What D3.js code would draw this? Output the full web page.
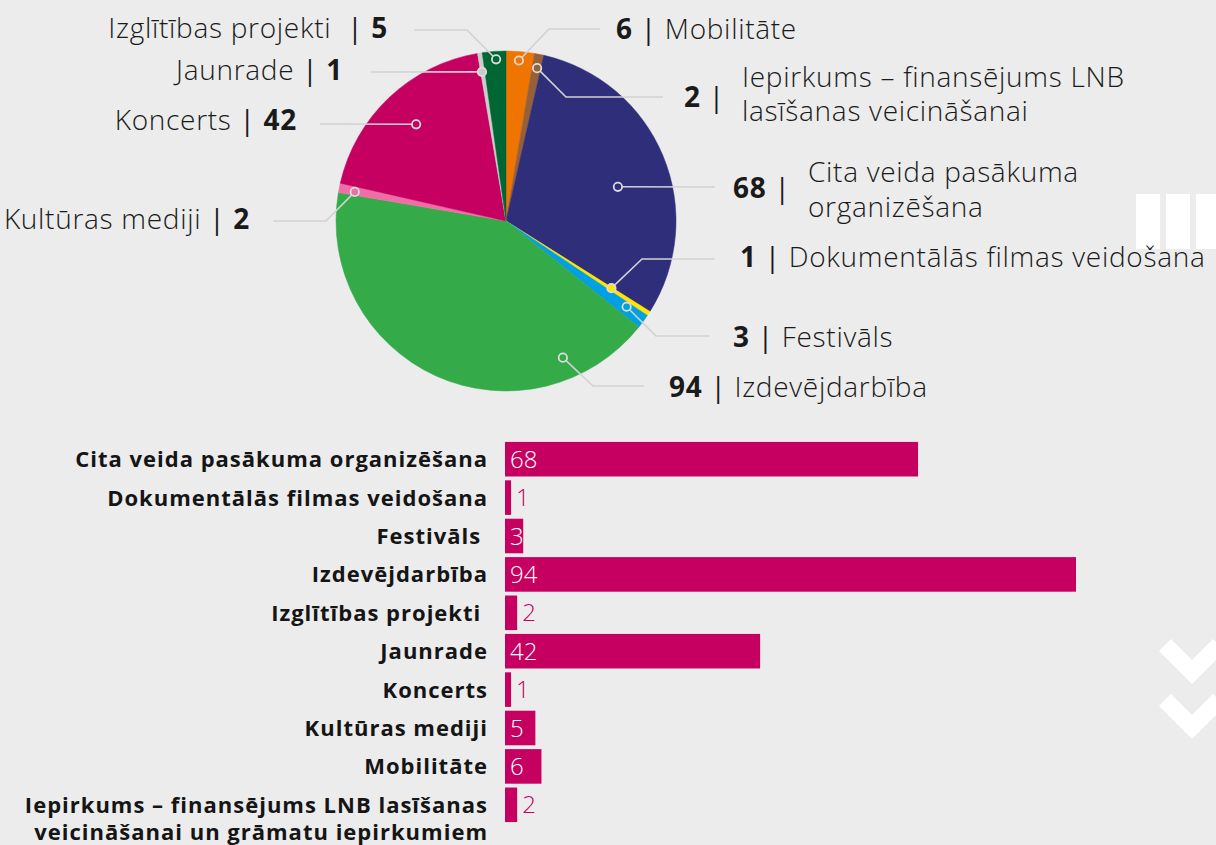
<!DOCTYPE html>
<meta charset="utf-8">
<style>
body { margin: 0; background: #ececec; }
svg { display: block; font-family: "Open Sans", Lato, sans-serif; }
.lead { fill: none; stroke: #d2d2d2; stroke-width: 1.6px; }
.marker { stroke: #dcdcdc; stroke-width: 1.8px; }
.plabel { font-size: 28px; font-weight: 300; fill: #1a1a1a; letter-spacing: 0.7px; }
.plabel .num { font-weight: 700; }
.plabel .sep { font-weight: 400; }
.cat { font-size: 22px; font-weight: 700; fill: #151515; letter-spacing: 1px; }
.val { font-size: 24px; font-weight: 300; }
</style>
<svg width="1216" height="845"></svg>
<script src="https://d3js.org/d3.v7.min.js"></script>
<script>

// pie: clockwise from 12 o'clock
var pieNames = ["Mobilitāte", "Iepirkums – finansējums LNB lasīšanas veicināšanai",
    "Cita veida pasākuma organizēšana", "Dokumentālās filmas veidošana", "Festivāls",
    "Izdevējdarbība", "Kultūras mediji", "Koncerts", "Jaunrade", "Izglītības projekti "];
var pieValues = [6, 2, 68, 1, 3, 94, 2, 42, 1, 5];
var pieColors = ["#ef7400", "#96603a", "#2e2e7a", "#ffe500", "#00a0e3",
    "#34aa48", "#ef6ea6", "#c50060", "#cccccc", "#006633"];

// bar chart (as published)
var barCategories = ["Cita veida pasākuma organizēšana", "Dokumentālās filmas veidošana",
    "Festivāls ", "Izdevējdarbība", "Izglītības projekti ", "Jaunrade", "Koncerts",
    "Kultūras mediji", "Mobilitāte",
    "Iepirkums – finansējums LNB lasīšanas|veicināšanai un grāmatu iepirkumiem"];
var barValues = [68, 1, 3, 94, 2, 42, 1, 5, 6, 2];

var svg = d3.select("svg");

// ---------- decorations on the right edge ----------
var deco = svg.append("g").attr("fill", "#fff");
[1136, 1166, 1196].forEach(function(x) {
  deco.append("rect").attr("x", x).attr("y", 194).attr("width", 24).attr("height", 55);
});
[0, 55].forEach(function(dy) {
  svg.append("polyline")
      .attr("points", [[1165, 645 + dy], [1192, 672 + dy], [1219, 645 + dy]].join(" "))
      .attr("fill", "none").attr("stroke", "#fff").attr("stroke-width", 17);
});

// ---------- pie ----------
var cx = 506, cy = 221, R = 170;
var pie = d3.pie().sort(null).value(function(d) { return d; });
var arc = d3.arc().innerRadius(0).outerRadius(R);
var arcs = pie(pieValues);

var pg = svg.append("g").attr("transform", "translate(" + cx + "," + cy + ")");
pg.selectAll("path")
  .data(arcs)
  .enter().append("path")
    .attr("d", arc)
    .attr("fill", function(d, i) { return pieColors[i]; })
    .attr("stroke", function(d, i) { return pieColors[i]; })
    .attr("stroke-width", 0.5);

// label layout: marker angle (deg) and radius, leader path, label placement
var layout = [
  {a: 4.6,   r: 161, path: [[549, 29], [600, 29]], side: "r", x: 616, y: 29},
  {a: 11.5,  r: 156, path: [[566, 97], [663, 97]], side: "r", x: 684, y: 97, nameX: 742, lines: ["Iepirkums – finansējums LNB", "lasīšanas veicināšanai"], ly: [77, 111]},
  {a: 73,    r: 117, path: [[715, 187]], side: "r", x: 733, y: 188, nameX: 808, lines: ["Cita veida pasākuma", "organizēšana"], ly: [172, 207]},
  {a: 122.5, r: 125, path: [[642, 259], [715, 259]], side: "r", x: 740, y: 257},
  {a: 125.4, r: 148, path: [[656, 336], [710, 336]], side: "r", x: 733, y: 337},
  {a: 157.4, r: 148, path: [[593, 386], [644, 386]], side: "r", x: 669, y: 387},
  {a: 280.9, r: 154, path: [[326, 221], [273, 221]], side: "l", x: 250, y: 219},
  {a: 317.1, r: 132, path: [[320, 124]], side: "l", x: 297, y: 120},
  {a: 350.85, r: 151, path: [[371, 72]], side: "l", x: 343, y: 70},
  {a: 356.5, r: 162, path: [[467, 30], [414, 30]], side: "l", x: 388, y: 28}
];

var lg = svg.append("g");
layout.forEach(function(L, i) {
  var rad = L.a * Math.PI / 180;
  var mx = cx + L.r * Math.sin(rad), my = cy - L.r * Math.cos(rad);
  lg.append("path")
      .attr("class", "lead")
      .attr("d", d3.line()([[mx, my]].concat(L.path)));
  lg.append("circle")
      .attr("class", "marker")
      .attr("cx", mx).attr("cy", my).attr("r", 4.2)
      .attr("fill", pieColors[i]);

  var t = lg.append("text").attr("class", "plabel")
      .attr("x", L.x).attr("y", L.y).attr("dy", "0.35em")
      .style("white-space", "pre");
  if (L.side === "l") {
    t.attr("text-anchor", "end");
    t.append("tspan").text(pieNames[i] + " ");
    t.append("tspan").attr("class", "sep").text("| ");
    t.append("tspan").attr("class", "num").text(pieValues[i]);
  } else if (L.lines) {
    t.append("tspan").attr("class", "num").text(pieValues[i]);
    t.append("tspan").attr("class", "sep").text(" |");
    L.lines.forEach(function(s, k) {
      lg.append("text").attr("class", "plabel")
          .attr("x", L.nameX).attr("y", L.ly[k]).attr("dy", "0.35em")
          .text(s);
    });
  } else {
    t.append("tspan").attr("class", "num").text(pieValues[i]);
    t.append("tspan").attr("class", "sep").text(" |");
    t.append("tspan").text(" " + pieNames[i]);
  }
});

// ---------- bars ----------
var x = d3.scaleLinear().domain([0, d3.max(barValues)]).range([505, 1076]);
var y = d3.scaleBand().domain(barCategories).range([440, 824])
    .paddingInner(0.1).paddingOuter(0.05);

var bg = svg.append("g");
bg.selectAll("rect")
  .data(barValues)
  .enter().append("rect")
    .attr("x", x(0))
    .attr("y", function(d, i) { return y(barCategories[i]); })
    .attr("width", function(d) { return x(d) - x(0); })
    .attr("height", y.bandwidth())
    .attr("fill", "#c50060");

bg.selectAll("text.val")
  .data(barValues)
  .enter().append("text")
    .attr("class", "val")
    .attr("x", function(d) { var w = x(d) - x(0); return w >= 16 ? x(0) + 5 : x(d) + 5; })
    .attr("y", function(d, i) { return y(barCategories[i]) + y.bandwidth() / 2; })
    .attr("dy", "0.36em")
    .attr("fill", function(d) { return x(d) - x(0) >= 16 ? "#fff" : "#c50060"; })
    .text(function(d) { return d; });

barCategories.forEach(function(c) {
  var parts = c.split("|");
  var t = bg.append("text").attr("class", "cat")
      .attr("text-anchor", "end")
      .attr("x", 488)
      .attr("y", y(c) + y.bandwidth() / 2)
      .attr("dy", "0.36em")
      .style("white-space", "pre");
  parts.forEach(function(p, k) {
    t.append("tspan").attr("x", 488).attr("dy", k ? "1.25em" : null).text(p);
  });
});

</script>
